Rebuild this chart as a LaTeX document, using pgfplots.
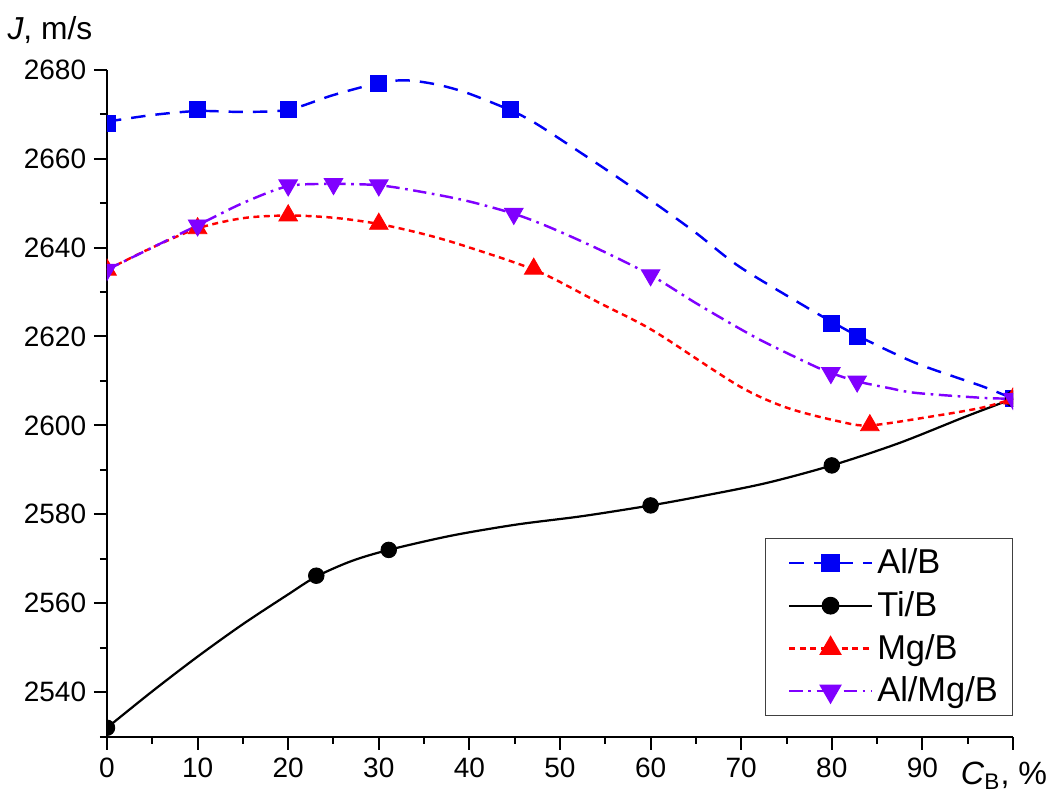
\documentclass[border=0pt]{standalone}
\usepackage{fontspec}
\setmainfont{Liberation Sans}
\usepackage{pgfplots}
\pgfplotsset{compat=1.18}
\definecolor{alb}{RGB}{0,0,245}
\definecolor{almgb}{RGB}{128,0,255}
\definecolor{mgb}{RGB}{255,0,0}
\begin{document}
\begin{tikzpicture}
\useasboundingbox (-48.15pt,-26.7pt) rectangle (428.85pt,331.5pt);
\begin{axis}[
    at={(0,0)}, anchor=south west,
    scale only axis,
    width=407.7pt, height=300.15pt,
    xmin=0, xmax=100, ymin=2530, ymax=2680,
    clip marker paths=true,
    axis x line*=bottom, axis y line*=left,
    axis line style={-, line width=0.9pt},
    tick align=outside,
    major tick length=5.85pt, minor tick length=3.15pt,
    every tick/.style={black, line width=0.9pt},
    xtick={0,10,...,100},
    xticklabels={0,10,20,30,40,50,60,70,80,90,{}},
    minor x tick num=1,
    ytick={2540,2560,...,2680},
    minor y tick num=1,
    extra y ticks={2530}, extra y tick labels={{}},
    extra y tick style={major tick length=3.15pt},
    tick label style={font=\fontsize{12.6}{14}\selectfont},
    /pgf/number format/assume math mode=true,
    /pgf/number format/1000 sep={},
    xlabel={\textit{C}\textsubscript{B}, \%},
    ylabel={\textit{J}, m/s},
    every axis x label/.style={at={(rel axis cs:1,0)}, anchor=base east,
        xshift=18.9pt, yshift=-21.6pt, font=\fontsize{14.5}{16}\selectfont},
    every axis y label/.style={at={(rel axis cs:0,1)}, anchor=base east,
        xshift=-3.1pt, yshift=13.4pt, font=\fontsize{14.3}{16}\selectfont},
    legend style={at={(1,0.031)}, anchor=south east, draw=black!75,
        line width=0.6pt, font=\fontsize{15.5}{18}\selectfont,
        inner xsep=4.5pt, inner ysep=2.5pt, row sep=2.5pt},
    legend cell align=left,
    legend image code/.code={\path (0cm,0cm);
        \draw[mark repeat=2,mark phase=2]
        plot coordinates {(0.2cm,0cm) (0.85cm,0cm) (1.5cm,0cm)};},
]

% fitted curves
\addplot[alb, line width=1.1pt, dash pattern=on 6.5pt off 4.5pt, smooth, forget plot] coordinates {
 (0,2668.3) (5,2669.8) (10,2670.7) (15,2670.5) (20,2671) (25,2674.3) (30,2677)
 (33,2677.6) (36.3,2676.7) (39.7,2674.8) (44.5,2670.9) (47,2668.3) (50,2664.4)
 (56.2,2656) (61,2649.2) (65,2643.3) (69.8,2635.7) (77.1,2626.7) (80,2623.3)
 (83,2620) (89.3,2614) (96.6,2608.8) (100,2606)
};
\addplot[black, line width=1pt, smooth, forget plot] coordinates {
 (0,2532) (5,2540.2) (10,2548) (15,2555.3) (20,2562) (23.1,2566) (27,2569.5)
 (31.1,2572) (38,2575.2) (45.2,2577.7) (52.5,2579.6) (60,2582) (65.4,2584)
 (72.7,2587) (80,2591) (87.4,2596) (94.8,2602) (100,2606)
};
\addplot[mgb, line width=1.1pt, dash pattern=on 2.7pt off 2pt, smooth, forget plot] coordinates {
 (0,2635) (5,2640) (10,2644.3) (15,2646.6) (20,2647.2) (25,2646.7) (30,2645.3)
 (35.2,2642.9) (39.7,2640.2) (47.5,2634.7) (54.4,2627.5) (58.8,2623) (61.7,2619.5)
 (69.8,2608.8) (75,2604) (80.8,2600.9) (84.2,2600) (91,2602) (96.6,2604) (100,2606)
};
\addplot[almgb, line width=1.1pt, dash pattern=on 6pt off 2.5pt on 1.2pt off 2.5pt, smooth, forget plot] coordinates {
 (0,2635) (5,2640) (10,2645) (15,2650) (20,2653.8) (25,2654.3) (30,2654)
 (34.5,2652.6) (39.7,2650.5) (44.9,2647.6) (48.8,2644.6) (54.4,2639.5) (60,2633.8)
 (65,2627.5) (69.8,2621.8) (72.7,2618.6) (77.9,2613.5) (79.9,2611.8) (82.8,2609.9)
 (86.3,2608.4) (89.3,2607.3) (96.6,2606.2) (100,2606)
};

% measured points
\addplot[only marks, alb, mark=square*, mark size=3.6pt, forget plot] coordinates {
 (0,2668) (10,2671) (20,2671) (30,2677) (44.5,2671) (80,2623) (82.8,2620) (100,2606)
};
\addplot[only marks, black, mark=*, mark size=3.5pt, forget plot] coordinates {
 (0,2532) (23.1,2566.2) (31.1,2572) (60,2582) (80,2591) (100,2606)
};
\addplot[only marks, mgb, mark=triangle*, mark size=4.8pt, forget plot] coordinates {
 (0,2635) (10,2644.3) (20,2647.2) (30,2645.3) (47.1,2635.2) (84.2,2600) (100,2606)
};
\addplot[only marks, almgb, mark=triangle*, mark size=4.8pt, mark options={rotate=180}, forget plot] coordinates {
 (0,2635) (10,2645) (20,2654) (25,2654.3) (30,2654) (44.9,2647.6) (60,2633.8)
 (79.9,2611.8) (82.8,2609.9) (100,2606)
};

\addlegendimage{alb, line width=1.1pt, dash pattern=on 6.5pt off 4.5pt, mark=square*, mark size=3.6pt, mark options={solid}}
\addlegendentry{Al/B}
\addlegendimage{black, line width=1pt, mark=*, mark size=3.5pt}
\addlegendentry{Ti/B}
\addlegendimage{mgb, line width=1.1pt, dash pattern=on 2.7pt off 2pt, mark=triangle*, mark size=4.8pt, mark options={solid}}
\addlegendentry{Mg/B}
\addlegendimage{almgb, line width=1.1pt, dash pattern=on 6pt off 2.5pt on 1.2pt off 2.5pt, mark=triangle*, mark size=4.8pt, mark options={solid, rotate=180}}
\addlegendentry{Al/Mg/B}
\end{axis}
\end{tikzpicture}
\end{document}
